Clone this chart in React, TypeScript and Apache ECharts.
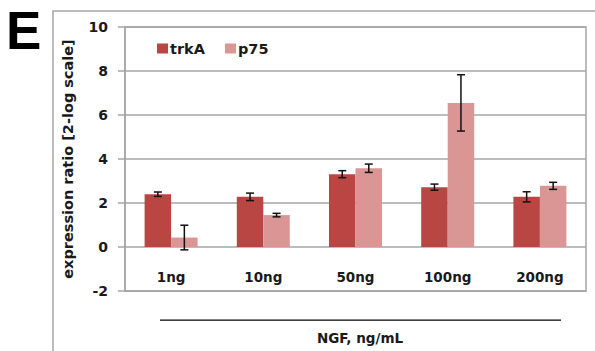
import React, { useEffect, useRef } from "react";
import * as echarts from "echarts";

const categories = ["1ng", "10ng", "50ng", "100ng", "200ng"];
const trkA = [2.4, 2.28, 3.31, 2.72, 2.28];
const trkAErr = [0.1, 0.17, 0.16, 0.14, 0.23];
const p75 = [0.43, 1.45, 3.58, 6.55, 2.78];
const p75Err = [0.56, 0.08, 0.19, 1.28, 0.16];
const yTicks = [-2, 0, 2, 4, 6, 8, 10];

const FONT = "DejaVu Sans";
const BAR_W = 26.5;

export default function App() {
  const ref = useRef<HTMLDivElement>(null);
  useEffect(() => {
    if (!ref.current) return;
    const chart = echarts.init(ref.current, null, { renderer: "svg" });
    const errData = (vals: number[], errs: number[]) =>
      vals.map((v, i) => [i, v - errs[i], v + errs[i]]);
    const errSeries = (name: string, vals: number[], errs: number[], dx: number) => ({
      type: "custom",
      name: name + "_err",
      data: errData(vals, errs),
      encode: { x: 0, y: [1, 2] },
      z: 10,
      renderItem: (params: any, api: any) => {
        const i = api.value(0);
        const lo = api.coord([i, api.value(1)]);
        const hi = api.coord([i, api.value(2)]);
        const x = lo[0] + dx;
        const c = 4;
        const style = { stroke: "#111", lineWidth: 1.5 };
        return {
          type: "group",
          children: [
            { type: "line", shape: { x1: x, y1: lo[1], x2: x, y2: hi[1] }, style },
            { type: "line", shape: { x1: x - c, y1: lo[1], x2: x + c, y2: lo[1] }, style },
            { type: "line", shape: { x1: x - c, y1: hi[1], x2: x + c, y2: hi[1] }, style },
          ],
        };
      },
    });
    chart.setOption({
      animation: false,
      textStyle: { fontFamily: FONT },
      grid: {
        left: 125,
        top: 27,
        right: 9,
        bottom: 60,
        show: true,
        borderColor: "#a6a6a6",
        borderWidth: 1.5,
      },
      legend: {
        data: ["trkA", "p75"],
        left: 152,
        top: 36,
        icon: "rect",
        itemWidth: 11,
        itemHeight: 10,
        itemGap: 20,
        textStyle: {
          fontFamily: FONT,
          fontWeight: "bold",
          fontSize: 14.5,
          color: "#1a1a1a",
          padding: [0, 0, 0, -3],
        },
      },
      xAxis: {
        type: "category",
        data: categories,
        axisLine: { onZero: false, lineStyle: { color: "#a6a6a6", width: 1.5 } },
        axisTick: { show: false },
        axisLabel: {
          inside: true,
          margin: 7,
          fontFamily: FONT,
          fontWeight: "bold",
          fontSize: 13.5,
          color: "#1a1a1a",
        },
      },
      yAxis: {
        type: "value",
        min: yTicks[0],
        max: yTicks[yTicks.length - 1],
        interval: 2,
        name: "expression ratio [2-log scale]",
        nameLocation: "middle",
        nameGap: 50,
        nameTextStyle: { fontFamily: FONT, fontWeight: "bold", fontSize: 14.5, color: "#1a1a1a" },
        axisLine: { show: true, lineStyle: { color: "#a6a6a6", width: 1.5 } },
        axisTick: { show: true, length: 7, lineStyle: { color: "#a6a6a6", width: 1.5 } },
        splitLine: { lineStyle: { color: "#a6a6a6", width: 1.5 } },
        axisLabel: {
          margin: 17,
          fontFamily: FONT,
          fontWeight: "bold",
          fontSize: 14,
          color: "#1a1a1a",
        },
      },
      series: [
        {
          type: "bar",
          name: "trkA",
          data: trkA,
          barWidth: BAR_W,
          barGap: "0%",
          itemStyle: { color: "#BA4643" },
        },
        {
          type: "bar",
          name: "p75",
          data: p75,
          barWidth: BAR_W,
          barGap: "0%",
          itemStyle: { color: "#D99694" },
        },
        errSeries("trkA", trkA, trkAErr, -BAR_W / 2),
        errSeries("p75", p75, p75Err, BAR_W / 2),
      ],
      graphic: [
        {
          type: "rect",
          shape: { x: 53, y: 11, width: 600, height: 400 },
          style: { fill: "none", stroke: "#a6a6a6", lineWidth: 1.5 },
          silent: true,
          z: -10,
        },
        {
          type: "text",
          left: 6,
          top: 4,
          style: {
            text: "E",
            fontFamily: "Liberation Sans",
            fontWeight: "bold",
            fontSize: 53,
            fill: "#000",
          },
        },
        {
          type: "rect",
          shape: { x: 160, y: 319.5, width: 401, height: 1.3 },
          style: { fill: "#000" },
          z: 20,
        },
        {
          type: "text",
          x: 360,
          y: 338,
          style: {
            text: "NGF, ng/mL",
            fontFamily: FONT,
            fontWeight: "bold",
            fontSize: 13.5,
            fill: "#1a1a1a",
            align: "center",
            verticalAlign: "middle",
          },
        },
      ],
    });
    return () => chart.dispose();
  }, []);
  return <div ref={ref} style={{ width: 595, height: 351, position: "absolute", left: 0, top: 0 }} />;
}
